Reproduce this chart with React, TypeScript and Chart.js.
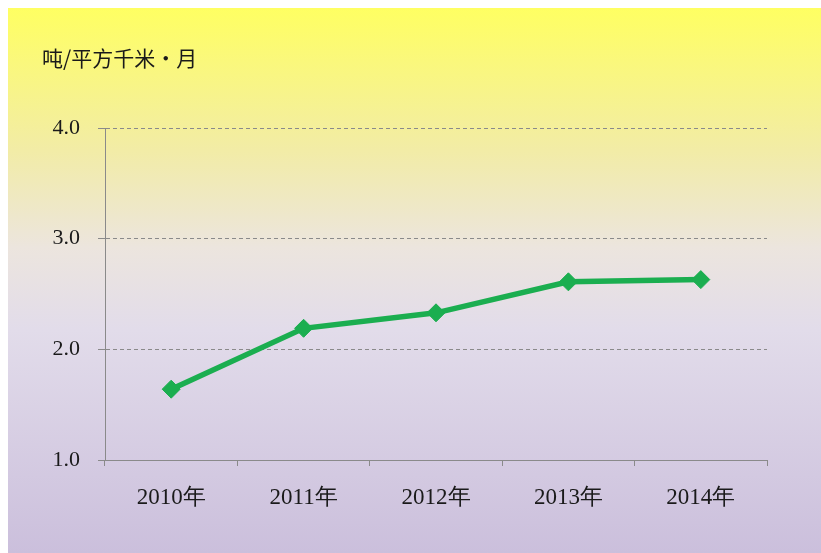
import React, { useEffect, useRef } from "react";
import { Chart, registerables } from "chart.js";

Chart.register(...registerables);

const categories = ["2010年", "2011年", "2012年", "2013年", "2014年"];
const values = [1.64, 2.19, 2.33, 2.61, 2.63];
const yMin = 1;
const yMax = 4;
const yStep = 1;
const unitLabel = "吨/平方千米・月";

const bgPlugin = {
  id: "bgGradient",
  beforeDraw(chart: any) {
    const { ctx, width, height } = chart;
    const g = ctx.createLinearGradient(0, 0, 0, height);
    g.addColorStop(0, "#FFFF62");
    g.addColorStop(0.26, "#F2ECA6");
    g.addColorStop(0.44, "#ECE5DE");
    g.addColorStop(0.59, "#E2DCEA");
    g.addColorStop(1, "#CBBFDC");
    ctx.save();
    ctx.fillStyle = g;
    ctx.fillRect(0, 0, width, height);
    ctx.restore();
  },
  afterDraw(chart: any) {
    const ctx = chart.ctx;
    ctx.save();
    ctx.fillStyle = "#1a1a1a";
    ctx.font = '21px "Noto Sans CJK SC", sans-serif';
    ctx.textBaseline = "middle";
    ctx.textAlign = "left";
    ctx.fillText(unitLabel, 34, 50);
    ctx.restore();
  },
};

export default function App() {
  const ref = useRef<HTMLCanvasElement>(null);
  useEffect(() => {
    if (!ref.current) return;
    const chart = new Chart(ref.current, {
      type: "line",
      data: {
        labels: categories,
        datasets: [
          {
            data: values,
            borderColor: "#1BAE50",
            backgroundColor: "#1BAE50",
            borderWidth: 5.5,
            tension: 0,
            pointStyle: "rectRot",
            pointRadius: 9,
            pointBorderWidth: 1,
            pointBorderColor: "#1BAE50",
            pointBackgroundColor: "#1BAE50",
          },
        ],
      },
      options: {
        animation: false,
        responsive: false,
        layout: { padding: { left: 0, top: 120, right: 54, bottom: 0 } },
        plugins: { legend: { display: false }, tooltip: { enabled: false } },
        scales: {
          x: {
            type: "category",
            offset: true,
            grid: {
              offset: true,
              drawOnChartArea: false,
              drawTicks: true,
              tickLength: 6,
              color: "#8a8a8a",
              tickColor: "#8a8a8a",
            },
            border: { display: true, color: "#8a8a8a", width: 1 },
            ticks: {
              color: "#1a1a1a",
              font: { family: '"Liberation Serif", serif', size: 23 },
              padding: 18,
              maxRotation: 0,
            },
            afterFit(scale: any) {
              scale.height = 93;
            },
          },
          y: {
            min: yMin,
            max: yMax,
            ticks: {
              stepSize: yStep,
              color: "#1a1a1a",
              font: { family: '"Liberation Serif", serif', size: 22 },
              padding: 18,
              callback: (v: any) => Number(v).toFixed(1),
            },
            grid: {
              color: "#8a8a8a",
              tickColor: "#8a8a8a",
              tickLength: 7,
              drawTicks: true,
              lineWidth: 1,
            },
            border: { display: true, color: "#8a8a8a", width: 1, dash: [4, 3] },
            afterFit(scale: any) {
              scale.width = 97;
            },
          },
        },
      },
      plugins: [bgPlugin],
    });
    return () => chart.destroy();
  }, []);
  return (
    <div style={{ position: "fixed", left: 8, top: 8, width: 813, height: 545 }}>
      <canvas ref={ref} width={813} height={545} style={{ display: "block" }} />
    </div>
  );
}
